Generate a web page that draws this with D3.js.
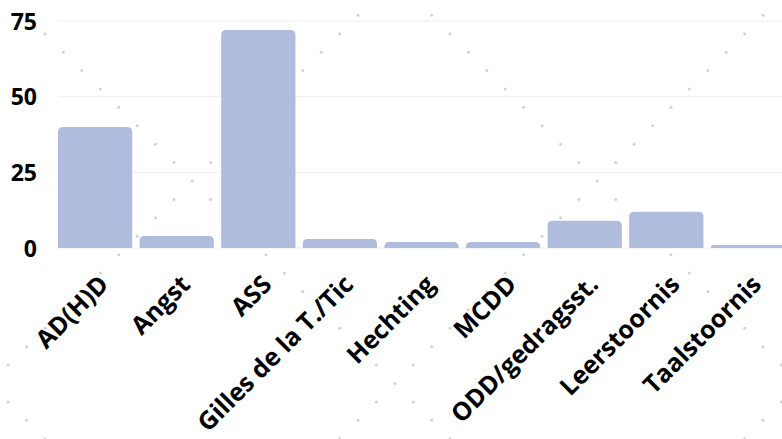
<!DOCTYPE html>
<html>
<head>
<meta charset="utf-8">
<script src="https://cdn.jsdelivr.net/npm/d3@7"></script>
<style>
  html, body { margin: 0; padding: 0; background: #ffffff; }
  svg { display: block; }
</style>
</head>
<body>
<svg id="chart" width="782" height="439"></svg>
<script>
// ---- data ----
const categories = ["AD(H)D", "Angst", "ASS", "Gilles de la T./Tic", "Hechting", "MCDD", "ODD/gedragsst.", "Leerstoornis", "Taalstoornis"];
const values = [40, 4, 72, 3, 2, 2, 9, 12, 1];
const yTicks = [0, 25, 50, 75];

// ---- layout ----
const W = 782, H = 439;
const svg = d3.select("#chart");
svg.append("rect").attr("width", W).attr("height", H).attr("fill", "#ffffff");

// decorative dot lattice (background)
const s = 18.41, ox = 192.3, oy = 181;
const dots = [];
for (let i = -12; i <= 34; i++) {
  for (let j = -12; j <= 16; j++) {
    const a = ((i - j) % 22 + 22) % 22, b = ((i + j) % 22 + 22) % 22;
    if (a === 0 || b === 0) {
      const px = ox + i * s, py = oy + j * s;
      if (px > -5 && px < W + 5 && py > -5 && py < H + 5) dots.push([px, py]);
    }
  }
}
svg.append("g").selectAll("circle").data(dots).join("circle")
  .attr("cx", d => d[0]).attr("cy", d => d[1]).attr("r", 1.5).attr("fill", "#d2d2d2");

const x = d3.scaleBand().domain(categories).range([54.3, 788.7]).paddingInner(0.09).paddingOuter(0.045);
const y = d3.scaleLinear().domain([0, 75]).range([248, 21]);

// gridlines
svg.append("g").selectAll("line").data(yTicks).join("line")
  .attr("x1", 58).attr("x2", W).attr("y1", d => y(d)).attr("y2", d => y(d))
  .attr("stroke", "#eeeeee").attr("stroke-width", 1);

// bars with rounded top corners
const r = 5;
function barPath(x0, y0, w, h) {
  const rr = Math.min(r, h, w / 2);
  return `M${x0},${y0 + h}V${y0 + rr}Q${x0},${y0} ${x0 + rr},${y0}H${x0 + w - rr}Q${x0 + w},${y0} ${x0 + w},${y0 + rr}V${y0 + h}Z`;
}
svg.append("g").selectAll("path").data(categories).join("path")
  .attr("d", (c, i) => barPath(x(c), y(values[i]), x.bandwidth(), y(0) - y(values[i])))
  .attr("fill", "#b0bcdd");

// y axis labels
const yAxis = d3.axisLeft(y).tickValues(yTicks).tickSize(0).tickPadding(0);
const gy = svg.append("g").attr("transform", "translate(37,0)").call(yAxis);
gy.select(".domain").remove();
gy.selectAll("text")
  .attr("font-family", "'Open Sans', sans-serif").attr("font-weight", 700)
  .attr("font-size", 23).attr("fill", "#000000").attr("dy", "0.35em");

// x axis labels
const xAxis = d3.axisBottom(x).tickSize(0).tickPadding(0);
const gx = svg.append("g").attr("transform", "translate(0,248)").call(xAxis);
gx.select(".domain").remove();
gx.selectAll(".tick text")
  .attr("font-family", "'Open Sans', sans-serif").attr("font-weight", 700)
  .attr("font-size", 25).attr("fill", "#000000")
  .attr("text-anchor", "end").attr("y", 0).attr("dy", 0)
  .attr("transform", "translate(15,38) rotate(-45)");
</script>
</body>
</html>
